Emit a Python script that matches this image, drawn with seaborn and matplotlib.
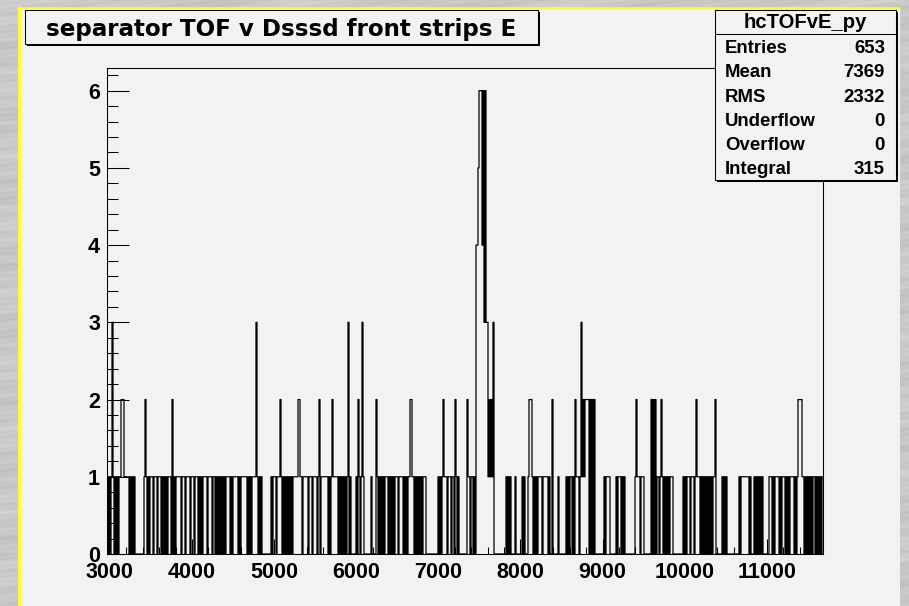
import numpy as np
import pandas as pd
import matplotlib
matplotlib.use("Agg")
import matplotlib.pyplot as plt
import seaborn as sns
from matplotlib.patches import Rectangle
from matplotlib.ticker import MultipleLocator, FixedLocator

sns.set_style("white")
plt.rcParams["font.family"] = ["Liberation Sans", "DejaVu Sans"]

# Bin contents, one character per bin, in six consecutive stretches of the axis
# (spaces only group the digits for readability).
counts_a = ("1010 1 3 1010101 1 222 111110 10101 000000000 1 2 10101 110 111 01 11 "
            "0101010 111 0 2 010 11111 0111 01 111 01 110111 010101 1110111101 1010101010101")
counts_b = ("1110 101 1111 010 111111 010101 111 3 101 010 00000000 101 110 111 2 1010 "
            "101010101 1111 22 11011 11101 110 11110 120 1111111 0101 2 11111 010101010")
counts_c = ("1 3 01 00000 10 2 101 3 10 000000 1 0000 2 10101010 11 101010101 110 1111 "
            "01010 11 22 11 0101010101 11 0 00000000000 10101 2 111 01 110110 2 101 00000000")
counts_d = ("2 110 11 010 44 5 666 4 6363 3 12121 3 000000000000 101 0 1 0000 1 000000 "
            "1010 0 01 222 1010101 11101 1111 010 0 2 00000 100 00000 10101 1010 21 1101 3 1 2 1 22")
counts_e = ("22020202 00000000 0101 1110 00000 101110101 0000000000 1 2 1110111 0 000000 "
            "202020 1101 2 10101010 111 0000000000 10101 11011 101 2 1 1101 01010")
counts_f = ("1010101 12 0 00000 101010 00000000000 101 111111 101 000 1010101 0 1 000 0 "
            "001 110 101 1110 101 110 10101 111 010 122221 101010 10101 101010101")

x_lo, x_hi = 2965.0, 11685.0
y_max = 6.3
x_major = [3000, 4000, 5000, 6000, 7000, 8000, 9000, 10000, 11000]
y_major = [0, 1, 2, 3, 4, 5, 6]

title_text = "separator TOF v Dsssd front strips E"
stats_name = "hcTOFvE_py"
stats_labels = ["Entries", "Mean", "RMS", "Underflow", "Overflow", "Integral"]
stats_values = ["653", "7369", "2332", "0", "0", "315"]

digits = "".join([counts_a, counts_b, counts_c, counts_d, counts_e, counts_f]).replace(" ", "")
counts = np.array([int(c) for c in digits], dtype=float)
edges = np.linspace(x_lo, x_hi, len(counts) + 1)
centres = 0.5 * (edges[:-1] + edges[1:])
df = pd.DataFrame({"tof": centres, "n": counts})

W, H = 909, 606
fig = plt.figure(figsize=(W / 100, H / 100), dpi=100)

# brushed-metal canvas behind the pad
bg = fig.add_axes([0, 0, 1, 1])
bg.set_axis_off()
yy, xx = np.mgrid[0:H, 0:W].astype(float)
u = yy + 0.12 * xx
tex = (0.785 + 0.014 * np.sin(u * 0.37) + 0.010 * np.sin(u * 1.13 + 0.4)
       + 0.012 * np.sin(u * 0.09 + xx * 0.013) + 0.006 * np.sin(xx * 0.031 - yy * 0.6))
bg.imshow(tex, cmap="gray", vmin=0, vmax=1, extent=(0, W, H, 0),
          aspect="auto", interpolation="bilinear")
bg.add_patch(Rectangle((19, 8), 881, 640, facecolor="#f2f2f2", edgecolor="none"))
bg.plot([18.5, 18.5], [7, H + 5], color="#ffff33", lw=2.2, solid_capstyle="butt")
bg.plot([17, 900], [7.5, 7.5], color="#ffff33", lw=1.8, solid_capstyle="butt")
bg.set_xlim(0, W)
bg.set_ylim(H, 0)

# histogram frame
ax = fig.add_axes([107 / W, 1 - 554 / H, 716 / W, 486.5 / H])
ax.set_facecolor("#f2f2f2")
sns.histplot(data=df, x="tof", weights="n", bins=list(edges), element="step", fill=False,
             color="black", linewidth=0.9, ax=ax)
ax.set_xlim(x_lo, x_hi)
ax.set_ylim(0, y_max)
ax.set_xlabel("")
ax.set_ylabel("")
for sp in ax.spines.values():
    sp.set_color("black")
    sp.set_linewidth(0.75)
    sp.set_visible(True)

ax.xaxis.set_major_locator(FixedLocator(x_major))
ax.xaxis.set_minor_locator(MultipleLocator(200))
ax.yaxis.set_major_locator(FixedLocator(y_major))
ax.yaxis.set_minor_locator(MultipleLocator(0.2))
ax.set_xticklabels([str(v) for v in x_major])
ax.set_yticklabels([str(v) for v in y_major])
ax.tick_params(axis="both", which="both", direction="in", top=False, right=False,
               bottom=True, left=True, color="black", width=0.75, labelcolor="black")
ax.tick_params(axis="y", which="major", length=15.5, pad=5)
ax.tick_params(axis="y", which="minor", length=7.7)
ax.tick_params(axis="x", which="major", length=10.5, pad=5.5)
ax.tick_params(axis="x", which="minor", length=5.3)
for lab in ax.get_xticklabels() + ax.get_yticklabels():
    lab.set_fontfamily(["Liberation Sans", "DejaVu Sans"])
    lab.set_fontweight("bold")
    lab.set_fontsize(15.5)

# title and statistics boxes on top
ov = fig.add_axes([0, 0, 1, 1], zorder=5)
ov.set_axis_off()
ov.patch.set_alpha(0)
ov.set_xlim(0, W)
ov.set_ylim(H, 0)

ov.add_patch(Rectangle((27, 12), 513, 33.5, facecolor="black", edgecolor="none"))
ov.add_patch(Rectangle((25, 10), 513, 33.5, facecolor="#f2f2f2", edgecolor="black", lw=0.75))
ov.text(281.5, 36, title_text, ha="center", va="baseline", fontsize=16.6,
        fontweight="bold", family=["DejaVu Sans"], color="black")

ov.add_patch(Rectangle((717, 12), 181, 170, facecolor="black", edgecolor="none"))
ov.add_patch(Rectangle((715, 10), 181, 170, facecolor="#f2f2f2", edgecolor="black", lw=0.75))
ov.plot([715, 896], [34.3, 34.3], color="black", lw=0.75)
ov.text(805.5, 28.3, stats_name, ha="center", va="baseline", fontsize=14.6,
        fontweight="bold", color="black")
for i, (lab, val) in enumerate(zip(stats_labels, stats_values)):
    yb = 53.3 + 24.15 * i
    ov.text(725, yb, lab, ha="left", va="baseline", fontsize=13.4,
            fontweight="bold", color="black")
    ov.text(885, yb, val, ha="right", va="baseline", fontsize=13.4,
            fontweight="bold", color="black")

fig.savefig("out.png", dpi=100)
